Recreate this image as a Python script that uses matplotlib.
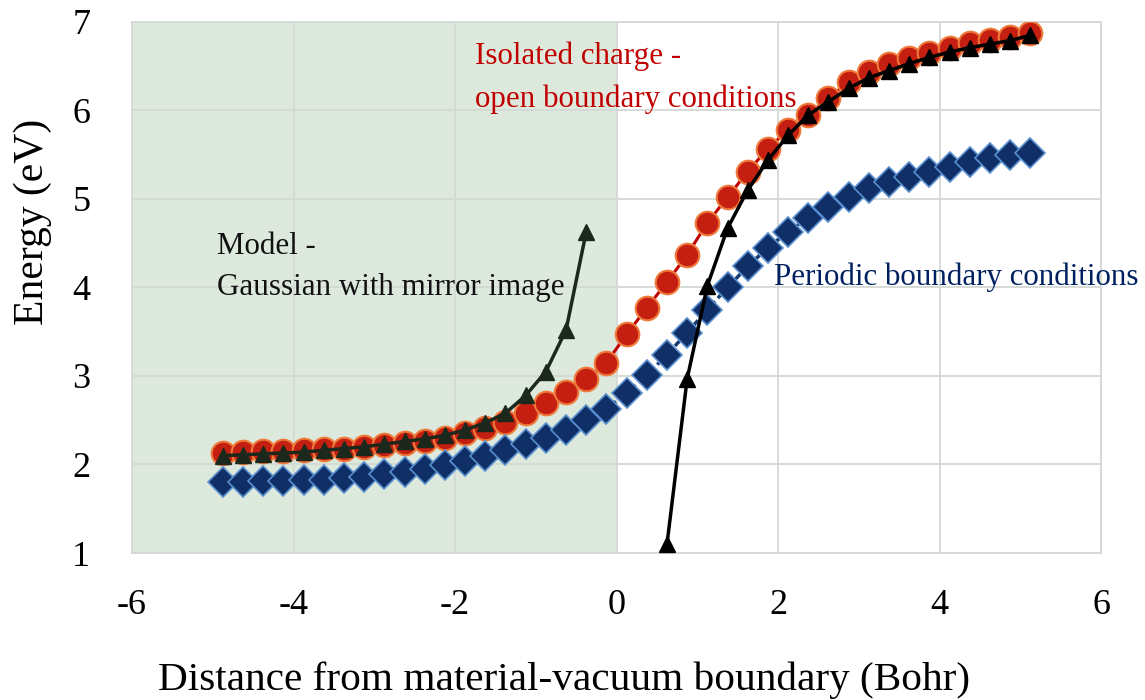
import numpy as np
import matplotlib
matplotlib.use("Agg")
import matplotlib.pyplot as plt

# Sampling positions (Bohr), shared by the full curves
x_full = [-4.875, -4.625, -4.375, -4.125, -3.875, -3.625, -3.375, -3.125, -2.875, -2.625,
          -2.375, -2.125, -1.875, -1.625, -1.375, -1.125, -0.875, -0.625, -0.375, -0.125,
          0.125, 0.375, 0.625, 0.875, 1.125, 1.375, 1.625, 1.875, 2.125, 2.375,
          2.625, 2.875, 3.125, 3.375, 3.625, 3.875, 4.125, 4.375, 4.625, 4.875, 5.125]

# Isolated charge, open boundary conditions (eV)
e_open = [2.13, 2.14, 2.15, 2.15, 2.16, 2.17, 2.18, 2.20, 2.22, 2.24,
          2.27, 2.30, 2.36, 2.41, 2.48, 2.58, 2.69, 2.82, 2.97, 3.15,
          3.47, 3.77, 4.06, 4.37, 4.73, 5.02, 5.31, 5.57, 5.78, 5.95,
          6.14, 6.32, 6.44, 6.53, 6.59, 6.65, 6.71, 6.76, 6.80, 6.83, 6.88]

# Periodic boundary conditions (eV)
e_periodic = [1.80, 1.80, 1.81, 1.81, 1.82, 1.83, 1.85, 1.86, 1.89, 1.92,
              1.95, 1.99, 2.04, 2.10, 2.16, 2.23, 2.30, 2.39, 2.50, 2.63,
              2.81, 3.01, 3.24, 3.49, 3.75, 4.00, 4.24, 4.45, 4.63, 4.79,
              4.91, 5.02, 5.12, 5.19, 5.25, 5.31, 5.36, 5.42, 5.46, 5.50, 5.52]

# Model: Gaussian with mirror image, material side
x_model_in = [-4.875, -4.625, -4.375, -4.125, -3.875, -3.625, -3.375, -3.125, -2.875, -2.625,
              -2.375, -2.125, -1.875, -1.625, -1.375, -1.125, -0.875, -0.625, -0.375]
e_model_in = [2.10, 2.11, 2.12, 2.13, 2.14, 2.16, 2.18, 2.20, 2.23, 2.26,
              2.29, 2.33, 2.39, 2.47, 2.58, 2.78, 3.05, 3.52, 4.63]

# Model: Gaussian with mirror image, vacuum side
x_model_out = [0.625, 0.875, 1.125, 1.375, 1.625, 1.875, 2.125, 2.375, 2.625, 2.875,
               3.125, 3.375, 3.625, 3.875, 4.125, 4.375, 4.625, 4.875, 5.125]
e_model_out = [1.10, 2.97, 4.02, 4.67, 5.10, 5.44, 5.72, 5.95, 6.10, 6.25,
               6.37, 6.45, 6.53, 6.60, 6.66, 6.71, 6.75, 6.79, 6.85]

x_ticks = [-6, -4, -2, 0, 2, 4, 6]
y_ticks = [1, 2, 3, 4, 5, 6, 7]

plt.rcParams['font.family'] = ['Liberation Serif', 'DejaVu Serif']

fig = plt.figure(figsize=(11.45, 7.0), dpi=100)
ax = fig.add_axes([0.1153, 0.21, 0.8463, 0.7586])

ax.set_xlim(-6, 6)
ax.set_ylim(1, 7)

# material region shading
ax.axvspan(-6, 0, color='#dde9dc', zorder=0, lw=0)

ax.set_xticks(x_ticks)
ax.set_yticks(y_ticks)
ax.set_xticklabels([str(v) for v in x_ticks])
ax.set_yticklabels([str(v) for v in y_ticks])
ax.grid(True, color='#d4d9d4', lw=1.3, zorder=1)
ax.tick_params(axis='both', length=0, labelsize=26)
ax.tick_params(axis='x', pad=26)
ax.tick_params(axis='y', pad=30)
for s in ax.spines.values():
    s.set_color('#d4d9d4')
    s.set_linewidth(1.3)

ax.plot(x_full, e_open, color='#c00000', lw=2.2, marker='o', ms=17,
        mfc='#c41f10', mec='#ee7a3c', mew=1.5, zorder=3)
ax.plot(x_full, e_periodic, color='#173a6e', lw=2.5, ls=(0, (2.5, 1.2)), marker='D', ms=15,
        mfc='#0f2f66', mec='#5a8fd0', mew=1.2, zorder=3)
ax.plot(x_model_in, e_model_in, color='#1b281b', lw=2.5, marker='^', ms=12,
        mfc='#1b281b', mec='#1b281b', zorder=4)
ax.plot(x_model_out, e_model_out, color='#000000', lw=2.5, marker='^', ms=12,
        mfc='#000000', mec='#000000', zorder=4)

ax.set_ylabel('Energy (eV)', fontsize=30)
ax.yaxis.set_label_coords(-0.083, 0.623)
ax.set_xlabel('Distance from material-vacuum boundary (Bohr)', fontsize=29.7)
ax.xaxis.set_label_coords(0.446, -0.205)

ax.text(-1.75, 6.37, 'Isolated charge -\nopen boundary conditions', color='#c00000',
        fontsize=22.3, ha='left', va='center', linespacing=1.6, zorder=5)
ax.text(-4.95, 4.23, 'Model -\nGaussian with mirror image', color='#111111',
        fontsize=22.3, ha='left', va='center', linespacing=1.55, zorder=5)
ax.text(1.95, 4.12, 'Periodic boundary conditions', color='#002060',
        fontsize=22.3, ha='left', va='center', zorder=5, clip_on=False)

fig.savefig('out.png', dpi=100)
